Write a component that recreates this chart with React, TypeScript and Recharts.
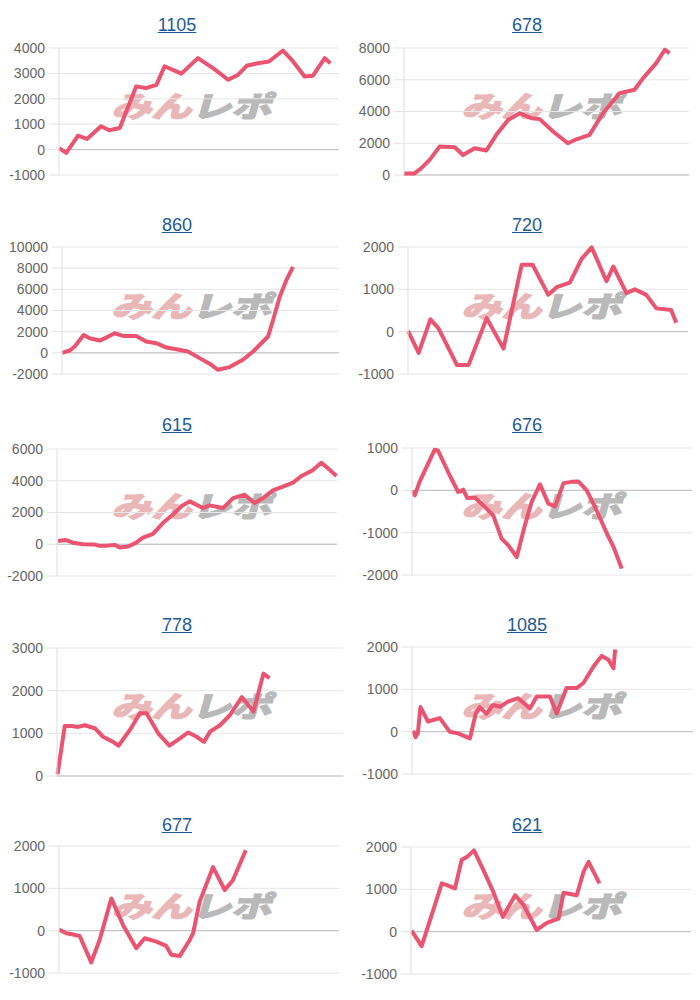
import React from "react";
import { LineChart, Line, XAxis, YAxis, CartesianGrid, ReferenceLine } from "recharts";

// ---- data: [x position along the axis (0-100), value] ----
const titles = ["1105", "678", "860", "720", "615", "676", "778", "1085", "677", "621"];

const s1105 = [[0, 60], [2.6, -130], [6.8, 550], [10, 420], [15, 920], [18, 760], [21.7, 850], [27.6, 2490], [31, 2420], [34.8, 2550], [37.7, 3280], [43.7, 2990], [49.6, 3600], [55, 3210], [60.4, 2750], [64, 2950], [67, 3300], [71, 3400], [75, 3470], [80, 3900], [83.6, 3470], [87.7, 2880], [90.7, 2910], [94.9, 3600], [96.9, 3400]];
const s678 = [[0, 100], [3.7, 100], [6, 420], [9, 950], [12.5, 1790], [17.8, 1750], [20.7, 1260], [24.8, 1680], [28.9, 1540], [32.4, 2530], [36.5, 3470], [40.6, 3890], [44.7, 3580], [47.6, 3520], [52.3, 2740], [57.5, 2000], [60.5, 2250], [65.1, 2530], [69.8, 3890], [75.7, 5160], [80.9, 5370], [83.9, 6100], [88.5, 7050], [91.5, 7890], [93.2, 7680]];
const s860 = [[0, 0], [2.8, 220], [4.6, 600], [7.8, 1690], [10, 1380], [13.6, 1160], [16, 1440], [19, 1850], [22, 1600], [26.8, 1600], [30.4, 1070], [34, 910], [37.7, 500], [41.3, 345], [45.5, 125], [49.7, -500], [53.3, -1030], [56.3, -1600], [60.5, -1350], [65.3, -660], [69, 125], [72.6, 1070], [74.4, 1540], [76.2, 3100], [78.6, 5300], [81, 6860], [83.4, 8120]];
const s720 = [[0, 20], [3.8, -500], [8, 290], [10.9, 80], [17.5, -790], [21.6, -790], [28.1, 320], [34.1, -400], [40.6, 1580], [44.5, 1580], [50.1, 870], [53.1, 1050], [57.8, 1160], [62, 1720], [65.6, 1990], [70.9, 1190], [73.3, 1540], [78, 910], [81, 1000], [85.1, 870], [88.7, 550], [94, 510], [95.8, 210]];
const s615 = [[0.4, 210], [3, 270], [5.7, 100], [9.3, 0], [13.5, -20], [15.2, -100], [17.6, -100], [20.6, -40], [22.4, -210], [25.4, -145], [28.3, 100], [30.7, 415], [34.3, 660], [37.9, 1350], [41.4, 1870], [44.4, 2390], [47.4, 2700], [52.1, 2280], [54.5, 2450], [59.3, 2280], [62.9, 2910], [67, 3120], [70.6, 2600], [73.6, 2910], [77.1, 3390], [80.7, 3630], [84.3, 3880], [87.3, 4300], [91.4, 4670], [94.4, 5130], [96.8, 4780], [99.8, 4300]];
const s676 = [[0.4, 0], [1, -120], [2.7, 200], [8.1, 960], [9.3, 940], [13.5, 350], [16.5, -40], [18.3, 15], [19.7, -180], [22.4, -170], [26, -390], [29, -590], [32, -1140], [34.4, -1300], [37.4, -1575], [40.3, -830], [42.7, -280], [45.7, 140], [48.7, -315], [51.1, -380], [54.1, 170], [57, 200], [59.4, 210], [62.4, 0], [65.9, -470], [69.6, -1020], [72, -1340], [74.9, -1850]];
const s778 = [[0.2, 40], [2.7, 1170], [5, 1170], [7.4, 1150], [9.7, 1190], [13.2, 1120], [16.1, 920], [19.6, 800], [21.5, 710], [25.5, 1080], [29, 1470], [31.3, 1470], [35.4, 1000], [39.3, 710], [43, 880], [45.9, 1020], [48.8, 920], [51.4, 800], [53.5, 1040], [57, 1190], [60.5, 1430], [64.6, 1850], [68.7, 1510], [72.2, 2400], [74.3, 2290]];
const s1085 = [[0.4, 25], [1.3, -130], [2.1, -25], [3, 580], [5.7, 240], [9.9, 320], [13.4, 0], [16.4, -40], [20.6, -160], [22.7, 430], [24.1, 580], [26.5, 420], [28.8, 630], [31.3, 590], [34.2, 710], [37.8, 790], [42, 550], [44.4, 830], [49.1, 830], [51.5, 430], [55, 1030], [58.6, 1030], [61, 1150], [64.6, 1540], [67.5, 1790], [69.9, 1700], [71.7, 1500], [72.3, 1940]];
const s677 = [[0, 30], [2.6, -60], [5, -90], [7.4, -125], [11.5, -750], [14.5, -220], [18.7, 760], [22.9, 130], [27.6, -415], [30.6, -180], [34.8, -260], [38.3, -360], [40.1, -570], [43.1, -600], [46.7, -220], [47.9, -60], [50.2, 680], [55, 1500], [59.2, 960], [62.1, 1190], [66.7, 1900]];
const s621 = [[0.2, 25], [3.8, -340], [6.8, 270], [11, 1140], [12.8, 1100], [15.7, 1020], [18.1, 1700], [19.9, 1760], [22.5, 1920], [25.9, 1450], [29.4, 940], [32.8, 350], [37.2, 860], [40.2, 630], [44.9, 40], [48.5, 210], [52.7, 310], [54.5, 920], [59.2, 860], [61.6, 1410], [63.4, 1650], [67.3, 1140]];

const series = [s1105, s678, s860, s720, s615, s676, s778, s1085, s677, s621];

const yTicks = [
  [-1000, 0, 1000, 2000, 3000, 4000],
  [0, 2000, 4000, 6000, 8000],
  [-2000, 0, 2000, 4000, 6000, 8000, 10000],
  [-1000, 0, 1000, 2000],
  [-2000, 0, 2000, 4000, 6000],
  [-2000, -1000, 0, 1000],
  [0, 1000, 2000, 3000],
  [-1000, 0, 1000, 2000],
  [-1000, 0, 1000, 2000],
  [-1000, 0, 1000, 2000],
];

const watermarkPink = "みん";
const watermarkGrey = "レポ";

// ---- layout (plot area edges inside each 350x200 panel) ----
const LAYOUT = [
  { l: 59, t: 48, b: 175, r: 339 },
  { l: 54, t: 48, b: 175, r: 339 },
  { l: 62, t: 47, b: 174, r: 339 },
  { l: 58, t: 47, b: 174, r: 338 },
  { l: 57, t: 49, b: 176, r: 337 },
  { l: 62, t: 48, b: 175, r: 342 },
  { l: 57, t: 48, b: 176, r: 343 },
  { l: 62, t: 47, b: 174, r: 343 },
  { l: 59, t: 46, b: 173, r: 339 },
  { l: 61, t: 47, b: 174, r: 341 },
];

const FONT = "'Liberation Sans', Arial, Helvetica, sans-serif";

function Panel({ i }: { i: number }) {
  const col = i % 2;
  const row = Math.floor(i / 2);
  const L = LAYOUT[i];
  const data = series[i].map(([x, y]) => ({ x, y }));
  const ticks = yTicks[i];
  return (
    <div style={{ position: "absolute", left: col * 350, top: row * 200, width: 350, height: 200 }}>
      <div
        style={{
          position: "absolute",
          left: 0,
          top: 14,
          width: 354,
          textAlign: "center",
          fontFamily: FONT,
          fontSize: 18,
          lineHeight: "22px",
        }}
      >
        <a href="#" style={{ color: "#1f5b96", textDecoration: "underline" }}>
          {titles[i]}
        </a>
      </div>
      <div
        style={{
          position: "absolute",
          left: 112,
          top: 90,
          width: 165,
          height: 30,
          display: "flex",
          alignItems: "center",
          justifyContent: "center",
          overflow: "visible",
          whiteSpace: "nowrap",
        }}
      >
        <span
          style={{
            display: "inline-block",
            fontFamily: "'Noto Sans CJK JP', sans-serif",
            fontWeight: 700,
            fontSize: 40,
            lineHeight: "40px",
            transform: "skewX(-16deg) scaleY(0.72)",
            letterSpacing: 0,
          }}
        >
          <span style={{ color: "#e9b7b8", WebkitTextStroke: "2.5px #e9b7b8" }}>{watermarkPink}</span>
          <span style={{ color: "#b9b9b9", WebkitTextStroke: "2.5px #b9b9b9" }}>{watermarkGrey}</span>
        </span>
      </div>
      <div style={{ position: "absolute", left: 0, top: 0 }}>
        <LineChart
          width={350}
          height={200}
          data={data}
          margin={{ top: L.t, bottom: 200 - L.b, left: 0, right: 350 - L.r }}
        >
          <CartesianGrid vertical={false} stroke="#e6e6e6" />
          <XAxis type="number" dataKey="x" domain={[0, 100]} hide />
          <YAxis
            type="number"
            domain={[ticks[0], ticks[ticks.length - 1]]}
            ticks={ticks}
            interval={0}
            width={L.l}
            axisLine={{ stroke: "#dddddd" }}
            tickLine={{ stroke: "#e2e2e2" }}
            tickSize={10}
            tickMargin={4}
            tick={{ fill: "#666666", fontSize: 14, fontFamily: FONT }}
          />
          <ReferenceLine y={0} stroke="#bdbdbd" />
          <Line
            type="linear"
            dataKey="y"
            stroke="#ea5470"
            strokeWidth={4}
            strokeLinejoin="round"
            dot={false}
            activeDot={false}
            isAnimationActive={false}
          />
        </LineChart>
      </div>
    </div>
  );
}

export default function App() {
  return (
    <div style={{ position: "absolute", left: 0, top: 0, width: 700, height: 1000, background: "#ffffff" }}>
      {titles.map((_, i) => (
        <Panel key={i} i={i} />
      ))}
    </div>
  );
}
